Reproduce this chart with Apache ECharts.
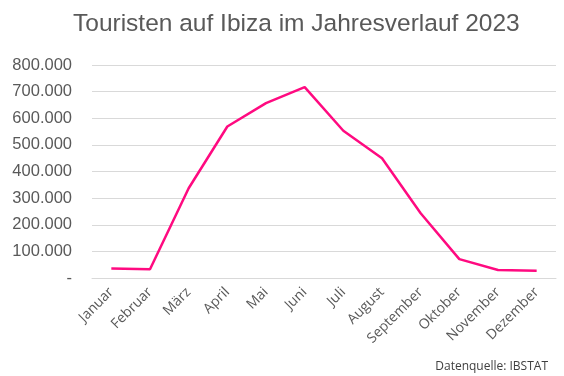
<!DOCTYPE html>
<html>
<head>
<meta charset="utf-8">
<script src="https://cdn.jsdelivr.net/npm/echarts@6/dist/echarts.min.js"></script>
<style>
  html, body { margin: 0; padding: 0; background: #fff; }
  #main { width: 564px; height: 376px; }
</style>
</head>
<body>
<div id="main"></div>
<script>
// Touristen pro Monat (geschätzt aus der Grafik)
var months = ['Januar', 'Februar', 'März', 'April', 'Mai', 'Juni', 'Juli', 'August', 'September', 'Oktober', 'November', 'Dezember'];
var tourists = [36000, 33000, 337000, 569000, 657000, 717000, 553000, 450000, 243000, 71000, 30000, 27000];

var chart = echarts.init(document.getElementById('main'));

// 800000 -> "800.000", 0 -> "-"
var fmt = function (v) {
    if (v === 0) return '-';
    return String(v).replace(/\B(?=(\d{3})+(?!\d))/g, '.');
};

chart.setOption({
    animation: false,
    title: {
        text: 'Touristen auf Ibiza im Jahresverlauf 2023',
        left: 68,
        top: 7,
        textStyle: { fontFamily: 'Liberation Sans', fontWeight: 'normal', fontSize: 24.5, color: '#595959' }
    },
    graphic: [{
        type: 'text',
        right: 16,
        bottom: 3,
        style: { text: 'Datenquelle: IBSTAT', font: '12px "Open Sans"', fill: '#404040' }
    }],
    grid: { left: 92, right: 8, top: 65, bottom: 98 },
    xAxis: {
        type: 'category',
        data: months,
        boundaryGap: true,
        axisTick: { show: false },
        axisLine: { lineStyle: { color: '#d9d9d9', width: 1 } },
        axisLabel: { rotate: 45, interval: 0, color: '#595959', fontFamily: 'Open Sans', fontSize: 14, margin: 12 }
    },
    yAxis: {
        type: 'value',
        min: 0,
        max: 800000,
        interval: 100000,
        axisLine: { show: false },
        axisTick: { show: false },
        splitLine: { lineStyle: { color: '#d9d9d9', width: 1 } },
        axisLabel: { formatter: fmt, color: '#595959', fontFamily: 'Liberation Sans', fontSize: 16.5, margin: 20 }
    },
    series: [{
        type: 'line',
        data: tourists,
        symbol: 'none',
        lineStyle: { color: '#ff0a80', width: 2.5 }
    }]
});
</script>
</body>
</html>
